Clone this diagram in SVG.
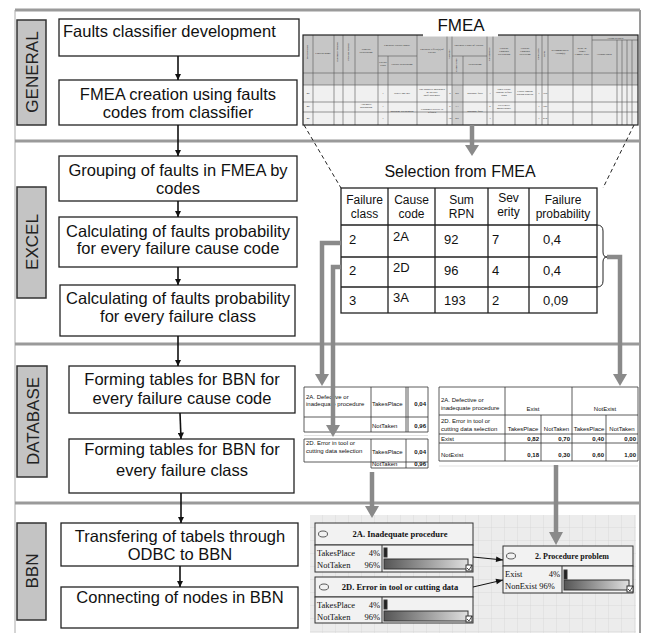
<svg xmlns="http://www.w3.org/2000/svg" width="647" height="633" viewBox="0 0 647 633">
<defs>
<style>
.frame{stroke:#9a9a9a;stroke-width:3;fill:none}
.sec rect{fill:#c4c4c4;stroke:#333;stroke-width:1.5}
.sec text{font-family:"Liberation Sans",Arial,sans-serif;font-size:17px;fill:#222;text-anchor:middle}
.box rect{fill:#fff;stroke:#222;stroke-width:1.3}
.box text{font-family:"Liberation Sans",Arial,sans-serif;font-size:16.5px;fill:#111;text-anchor:middle}
.flow{stroke:#111;stroke-width:1.6;fill:none;marker-end:url(#ah)}
.gray{stroke:#8a8a8a;stroke-width:4.5;fill:none;stroke-linejoin:miter}
.ft{font-family:"Liberation Serif",serif;font-size:2.8px;fill:#222;text-anchor:middle}
.fg{stroke:#555;stroke-width:0.6;fill:none}
.st{font-family:"Liberation Sans",Arial,sans-serif;font-size:13px;fill:#111}
.sh{font-size:12px}
.stc{text-anchor:middle}
.db{font-family:"Liberation Sans",Arial,sans-serif;font-size:6px;fill:#111}
.dbb{font-weight:bold;text-anchor:end}
.dl{stroke:#333;stroke-width:0.8;fill:none}
.bn{font-family:"Liberation Serif",serif;font-size:8.5px;fill:#111}
.bnt{font-weight:bold;text-anchor:middle;font-size:8.5px}
.node rect{stroke:#333;stroke-width:1}
</style>
<marker id="ah" viewBox="0 0 10 10" refX="10" refY="5" markerWidth="6.5" markerHeight="6.5" orient="auto" markerUnits="userSpaceOnUse">
<path d="M0,0 L10,5 L0,10 z" fill="#111"/>
</marker>
<marker id="ab" viewBox="0 0 10 10" refX="10" refY="5" markerWidth="8" markerHeight="7" orient="auto" markerUnits="userSpaceOnUse">
<path d="M0,1 L10,5 L0,9 z" fill="#111"/>
</marker>
<linearGradient id="bar" x1="0" y1="0" x2="1" y2="0">
<stop offset="0" stop-color="#555"/>
<stop offset="1" stop-color="#e0e0e0"/>
</linearGradient>
<pattern id="grid" x="310" y="515" width="13" height="13" patternUnits="userSpaceOnUse">
<rect width="13" height="13" fill="#ececec"/>
<path d="M13,0 V13 M0,13 H13" stroke="#d2d2d2" stroke-width="0.7"/>
</pattern>
</defs>

<!-- frame -->
<g id="frame">
<line class="frame" x1="15" y1="10" x2="640" y2="10"/>
<line x1="15" y1="10" x2="15" y2="633" stroke="#aaa" stroke-width="1"/>
<line x1="640" y1="10" x2="640" y2="633" stroke="#9a9a9a" stroke-width="2"/>
<line class="frame" x1="15" y1="141" x2="640" y2="141"/>
<line class="frame" x1="15" y1="344" x2="640" y2="344"/>
<line class="frame" x1="15" y1="503" x2="640" y2="503"/>
</g>

<!-- section labels -->
<g id="sec-general" class="sec"><rect x="17" y="20" width="29" height="105"/><text transform="translate(38,72) rotate(-90)">GENERAL</text></g>
<g id="sec-excel" class="sec"><rect x="17" y="187" width="29" height="111"/><text transform="translate(38,242) rotate(-90)">EXCEL</text></g>
<g id="sec-database" class="sec"><rect x="17" y="366" width="30" height="111"/><text transform="translate(38.5,421) rotate(-90)">DATABASE</text></g>
<g id="sec-bbn" class="sec"><rect x="17" y="523" width="29" height="97"/><text transform="translate(38,571) rotate(-90)">BBN</text></g>

<!-- left flow boxes -->
<g id="n1" class="box"><rect x="59" y="19" width="240" height="37"/><text x="63" y="37" style="text-anchor:start">Faults classifier development</text></g>
<g id="n2" class="box"><rect x="59" y="80" width="238" height="45"/><text x="178" y="100">FMEA creation using faults</text><text x="178" y="118">codes from classifier</text></g>
<g id="n3" class="box"><rect x="59" y="156" width="238" height="45"/><text x="178" y="176">Grouping of faults in FMEA by</text><text x="178" y="194">codes</text></g>
<g id="n4" class="box"><rect x="59" y="217" width="238" height="50"/><text x="178" y="237">Calculating of faults probability</text><text x="178" y="254">for every failure cause code</text></g>
<g id="n5" class="box"><rect x="60" y="285" width="235" height="51"/><text x="178" y="304">Calculating of faults probability</text><text x="178" y="322">for every failure class</text></g>
<g id="n6" class="box"><rect x="69" y="366" width="226" height="47"/><text x="182" y="385">Forming tables for BBN for</text><text x="182" y="404">every failure cause code</text></g>
<g id="n7" class="box"><rect x="69" y="439" width="225" height="54"/><text x="182" y="455">Forming tables for BBN for</text><text x="182" y="476">every failure class</text></g>
<g id="n8" class="box"><rect x="61" y="523" width="237" height="43"/><text x="180" y="542">Transfering of tabels through</text><text x="180" y="560">ODBC to BBN</text></g>
<g id="n9" class="box"><rect x="61" y="587" width="237" height="41"/><text x="180" y="603">Connecting of nodes in BBN</text></g>

<!-- FMEA mini table -->
<g id="fmea">
<rect x="303" y="35" width="335" height="90" fill="#f0f0f0"/>
<rect x="303" y="35" width="335" height="50" fill="#c6c6c6"/>
<rect x="452" y="85" width="11" height="40" fill="#d0d0d0"/>
<g class="fg">
<path d="M313,35V125 M334,35V125 M343,35V125 M355,35V125 M378,35V125 M417,35V125 M447,35V125 M452,35V125 M487,35V125 M493,35V125 M515,35V125 M536,35V125 M542,35V125 M548,35V125 M573,35V125 M592,35V125"/>
<path d="M388,56V125 M463,56V125 M617,40V125 M622,40V125 M627,40V125 M632,40V125"/>
<path d="M378,56H417 M452,56H487 M592,40H638"/>
<path d="M303,73H638 M303,85H638 M303,102H638 M303,112H638"/>
</g>
<rect x="303" y="35" width="335" height="90" fill="none" stroke="#222" stroke-width="1.2"/>
<text class="ft" x="308" y="52" transform="rotate(-90,308,52)">Process date</text>
<text class="ft" x="323" y="54">Process name</text>
<text class="ft" x="338" y="52" transform="rotate(-90,338,52)">Internally related</text>
<text class="ft" x="349" y="52" transform="rotate(-90,349,52)">Process related</text>
<text class="ft" x="366" y="50">Process</text><text class="ft" x="366" y="53">Description</text>
<text class="ft" x="397" y="46">Potential Failure Mode</text>
<text class="ft" x="383" y="63">Failure</text><text class="ft" x="383" y="66">class</text>
<text class="ft" x="402" y="65">Failure description</text>
<text class="ft" x="432" y="50">Potential Effect(s) of</text><text class="ft" x="432" y="53">Failure</text>
<text class="ft" x="450" y="54" transform="rotate(-90,450,54)">Severity</text>
<text class="ft" x="469" y="46">Potential Cause of Failure</text>
<text class="ft" x="457" y="65" transform="rotate(-90,457,65)">Cause code</text>
<text class="ft" x="475" y="65">Description</text>
<text class="ft" x="490" y="54" transform="rotate(-90,490,54)">Occurrence</text>
<text class="ft" x="504" y="49">Current</text><text class="ft" x="504" y="52">Controls</text><text class="ft" x="504" y="55">Prevention</text>
<text class="ft" x="525" y="49">Current</text><text class="ft" x="525" y="52">Controls</text><text class="ft" x="525" y="55">Detection</text>
<text class="ft" x="539" y="54" transform="rotate(-90,539,54)">Detection</text>
<text class="ft" x="545" y="54" transform="rotate(-90,545,54)">RPN</text>
<text class="ft" x="560" y="51">Recommended</text><text class="ft" x="560" y="54">Action(s)</text>
<text class="ft" x="582" y="49">Resp. &amp;</text><text class="ft" x="582" y="52">Target</text><text class="ft" x="582" y="55">Compl. Date</text>
<text class="ft" x="615" y="39">Action Results</text>
<text class="ft" x="604" y="55">Actions taken</text>
<text class="ft" x="308" y="94">40</text><text class="ft" x="308" y="107">40</text><text class="ft" x="308" y="119">40</text>
<text class="ft" x="366" y="105">Assembly</text><text class="ft" x="366" y="108">Machining</text>
<text class="ft" x="383" y="94">1</text><text class="ft" x="383" y="107">1</text><text class="ft" x="383" y="119">1</text>
<text class="ft" x="402" y="94">Wheel not roll</text>
<text class="ft" x="402" y="112">Machine breakdown</text>
<text class="ft" x="432" y="90">Not properly machined</text><text class="ft" x="432" y="93">or inexact</text><text class="ft" x="432" y="96">shaft assembly</text>
<text class="ft" x="432" y="110">Customer service is</text><text class="ft" x="432" y="113">refused</text>
<text class="ft" x="450" y="94">8</text><text class="ft" x="450" y="107">6</text><text class="ft" x="450" y="119">10</text>
<text class="ft" x="457" y="94">2D</text><text class="ft" x="457" y="107">3A</text><text class="ft" x="457" y="119">2D</text>
<text class="ft" x="475" y="94">Machine fault</text><text class="ft" x="475" y="112">Machine fault</text>
<text class="ft" x="490" y="94">3</text><text class="ft" x="490" y="107">5</text><text class="ft" x="490" y="119">3</text>
<text class="ft" x="504" y="90">Does visual</text><text class="ft" x="504" y="93">control before</text><text class="ft" x="504" y="96">work</text>
<text class="ft" x="504" y="106">Preventive</text><text class="ft" x="504" y="109">maintenance</text>
<text class="ft" x="525" y="92">Visual control</text><text class="ft" x="525" y="95">during process</text>
<text class="ft" x="539" y="94">7</text><text class="ft" x="539" y="107">7</text><text class="ft" x="539" y="119">7</text>
<text class="ft" x="545" y="94">168</text><text class="ft" x="545" y="107">126</text><text class="ft" x="545" y="119">210</text>
<rect x="423" y="12" width="75" height="24.5" fill="#fff"/>
<text x="461" y="31" font-family="'Liberation Sans',Arial,sans-serif" font-size="17" text-anchor="middle" fill="#111">FMEA</text>
</g>

<!-- selection table -->
<g id="selection">
<text x="460" y="177" class="st stc" style="font-size:16px">Selection from FMEA</text>
<rect x="341" y="188" width="256" height="125" fill="#fff" stroke="#222" stroke-width="1.3"/>
<path d="M388,188V313 M435,188V313 M488,188V313 M529,188V313 M341,225H597 M341,257H597 M341,287H597" stroke="#222" stroke-width="1.3" fill="none"/>
<text class="st sh stc" x="364.5" y="204">Failure</text><text class="st sh stc" x="364.5" y="218">class</text>
<text class="st sh stc" x="411.5" y="204">Cause</text><text class="st sh stc" x="411.5" y="218">code</text>
<text class="st sh stc" x="461.5" y="204">Sum</text><text class="st sh stc" x="461.5" y="218">RPN</text>
<text class="st sh stc" x="508.5" y="202">Sev</text><text class="st sh stc" x="508.5" y="216">erity</text>
<text class="st sh stc" x="563" y="204">Failure</text><text class="st sh stc" x="563" y="218">probability</text>
<text class="st" x="349" y="244">2</text><text class="st" x="393" y="241">2A</text><text class="st" x="444" y="244">92</text><text class="st" x="492" y="244">7</text><text class="st" x="543" y="244">0,4</text>
<text class="st" x="349" y="275">2</text><text class="st" x="393" y="272">2D</text><text class="st" x="444" y="275">96</text><text class="st" x="492" y="275">4</text><text class="st" x="543" y="275">0,4</text>
<text class="st" x="349" y="305">3</text><text class="st" x="393" y="302">3A</text><text class="st" x="444" y="305">193</text><text class="st" x="492" y="305">2</text><text class="st" x="543" y="305">0,09</text>
<path d="M597,225 Q603,225 603,231 L603,252 Q603,257 607,257 Q603,257 603,262 L603,281 Q603,287 597,287" fill="none" stroke="#222" stroke-width="1"/>
</g>

<!-- DB left table -->
<g id="db-cause">
<rect x="304" y="387" width="124" height="45" fill="#fff"/>
<path class="dl" d="M304,387H428V432H304Z M371,387V432 M406,387V432 M408,387V432 M304,417H428"/>
<line x1="304" y1="435.5" x2="428" y2="435.5" stroke="#ccc" stroke-width="0.6"/>
<path class="dl" d="M304,439H428V462H304Z M371,439V468 M406,439V468 M371,468H428 M428,462V468"/>
<text class="db" x="306" y="399">2A. Defective or</text><text class="db" x="306" y="406">inadequate procedure</text>
<text class="db" x="372" y="406">TakesPlace</text><text class="db dbb" x="426" y="406">0,04</text>
<text class="db" x="372" y="428">NotTaken</text><text class="db dbb" x="426" y="428">0,96</text>
<text class="db" x="306" y="445">2D. Error in tool or</text><text class="db" x="306" y="453">cutting data selection</text>
<text class="db" x="372" y="454">TakesPlace</text><text class="db dbb" x="426" y="454">0,04</text>
<text class="db" x="372" y="466">NotTaken</text><text class="db dbb" x="426" y="466">0,96</text>
</g>

<!-- DB right table -->
<g id="db-class">
<rect x="439" y="387" width="199" height="74" fill="#fff"/>
<path class="dl" d="M439,387H638V461H439Z M505,387V461 M572,387V461 M541,415V461 M606,415V461 M439,415H638 M439,434H638 M439,443H638"/>
<line x1="439" y1="466" x2="638" y2="466" stroke="#ccc" stroke-width="0.6"/>
<text class="db" x="441" y="402">2A. Defective or</text><text class="db" x="441" y="410">inadequate procedure</text>
<text class="db" x="533" y="411" text-anchor="middle">Exist</text><text class="db" x="605" y="411" text-anchor="middle">NotExist</text>
<text class="db" x="441" y="423">2D. Error in tool or</text><text class="db" x="441" y="431">cutting data selection</text>
<text class="db" x="523" y="431" text-anchor="middle">TakesPlace</text><text class="db" x="556.5" y="431" text-anchor="middle">NotTaken</text>
<text class="db" x="589" y="431" text-anchor="middle">TakesPlace</text><text class="db" x="622" y="431" text-anchor="middle">NotTaken</text>
<text class="db" x="441" y="441">Exist</text>
<text class="db dbb" x="539" y="441">0,82</text><text class="db dbb" x="570" y="441">0,70</text><text class="db dbb" x="604" y="441">0,40</text><text class="db dbb" x="636" y="441">0,00</text>
<text class="db" x="441" y="457">NotExist</text>
<text class="db dbb" x="539" y="457">0,18</text><text class="db dbb" x="570" y="457">0,30</text><text class="db dbb" x="604" y="457">0,60</text><text class="db dbb" x="636" y="457">1,00</text>
</g>

<!-- BBN panel -->
<g id="bbn-panel"><rect x="310" y="515" width="326" height="118" fill="url(#grid)"/></g>

<g id="bbn-2a" class="node">
<rect x="315" y="523" width="158" height="22" fill="#f2f2f2"/>
<rect x="315" y="545" width="158" height="27" fill="#f2f2f2"/>
<line x1="382" y1="545" x2="382" y2="572" stroke="#333" stroke-width="1"/>
<ellipse cx="323" cy="534" rx="4.5" ry="3" fill="none" stroke="#333" stroke-width="0.8"/>
<text class="bn bnt" x="400" y="537">2A. Inadequate procedure</text>
<text class="bn" x="317" y="556">TakesPlace</text><text class="bn" x="380" y="556" text-anchor="end">4%</text>
<text class="bn" x="317" y="568">NotTaken</text><text class="bn" x="380" y="568" text-anchor="end">96%</text>
<rect x="384" y="548" width="3" height="9" fill="#222" stroke="none"/>
<rect x="384" y="559" width="84" height="10" fill="url(#bar)" stroke="#777" stroke-width="0.5"/>
<rect x="466" y="565" width="6" height="6" fill="#fff" stroke="#333" stroke-width="0.6"/>
<path d="M467,568 L469,570 L472,565" fill="none" stroke="#222" stroke-width="0.8"/>
</g>

<g id="bbn-2d" class="node">
<rect x="315" y="577" width="158" height="20" fill="#f2f2f2"/>
<rect x="315" y="597" width="158" height="26" fill="#f2f2f2"/>
<line x1="382" y1="597" x2="382" y2="623" stroke="#333" stroke-width="1"/>
<ellipse cx="324" cy="587" rx="4.5" ry="3" fill="none" stroke="#333" stroke-width="0.8"/>
<text class="bn bnt" x="400" y="590">2D. Error in tool or cutting data</text>
<text class="bn" x="317" y="608">TakesPlace</text><text class="bn" x="380" y="608" text-anchor="end">4%</text>
<text class="bn" x="317" y="620">NotTaken</text><text class="bn" x="380" y="620" text-anchor="end">96%</text>
<rect x="384" y="600" width="3" height="9" fill="#222" stroke="none"/>
<rect x="384" y="611" width="84" height="10" fill="url(#bar)" stroke="#777" stroke-width="0.5"/>
<rect x="466" y="616" width="6" height="6" fill="#fff" stroke="#333" stroke-width="0.6"/>
<path d="M467,619 L469,621 L472,616" fill="none" stroke="#222" stroke-width="0.8"/>
</g>

<g id="bbn-proc" class="node">
<rect x="503" y="546" width="130" height="20" fill="#f2f2f2"/>
<rect x="503" y="566" width="130" height="27" fill="#f2f2f2"/>
<line x1="562" y1="566" x2="562" y2="593" stroke="#333" stroke-width="1"/>
<ellipse cx="511" cy="556" rx="4.5" ry="3" fill="none" stroke="#333" stroke-width="0.8"/>
<text class="bn bnt" x="572" y="559" style="font-size:8px">2. Procedure problem</text>
<text class="bn" x="505" y="577">Exist</text><text class="bn" x="560" y="577" text-anchor="end">4%</text>
<text class="bn" x="505" y="589">NonExist 96%</text>
<rect x="564" y="570" width="3" height="9" fill="#222" stroke="none"/>
<rect x="564" y="580" width="65" height="10" fill="url(#bar)" stroke="#777" stroke-width="0.5"/>
<rect x="627" y="586" width="6" height="6" fill="#fff" stroke="#333" stroke-width="0.6"/>
<path d="M628,589 L630,591 L633,586" fill="none" stroke="#222" stroke-width="0.8"/>
</g>

<!-- connectors -->
<g id="connectors">
<line class="flow" x1="178" y1="56" x2="178" y2="80"/>
<line class="flow" x1="178" y1="125" x2="178" y2="156"/>
<line class="flow" x1="178" y1="201" x2="178" y2="217"/>
<line class="flow" x1="178" y1="267" x2="178" y2="285"/>
<line class="flow" x1="178" y1="336" x2="178" y2="366"/>
<line class="flow" x1="180" y1="413" x2="181" y2="439"/>
<line class="flow" x1="181" y1="493" x2="181" y2="523"/>
<line class="flow" x1="180" y1="566" x2="180" y2="587"/>
<line x1="304" y1="125" x2="341" y2="188" stroke="#222" stroke-width="1" stroke-dasharray="4,3"/>
<line x1="634" y1="125" x2="603" y2="188" stroke="#222" stroke-width="1" stroke-dasharray="4,3"/>
<g fill="#8a8a8a">
<path class="gray" d="M472,125 V146"/><path d="M465,145 L479,145 L472,156 Z"/>
<path class="gray" d="M341,243 H322 V375"/><path d="M315,374 L329,374 L322,386 Z"/>
<path class="gray" d="M341,267 H333 V426"/><path d="M326,425 L340,425 L333,437 Z"/>
<path class="gray" d="M607,257 H620 V375"/><path d="M613,374 L627,374 L620,386 Z"/>
<path class="gray" d="M372,472 V507"/><path d="M365,506 L379,506 L372,518 Z"/>
<path class="gray" d="M556,465 V533"/><path d="M549,532 L563,532 L556,545 Z"/>
</g>
<line x1="473" y1="557" x2="503" y2="560" stroke="#111" stroke-width="1" marker-end="url(#ab)"/>
<line x1="473" y1="587" x2="503" y2="580" stroke="#111" stroke-width="1" marker-end="url(#ab)"/>
</g>
</svg>
